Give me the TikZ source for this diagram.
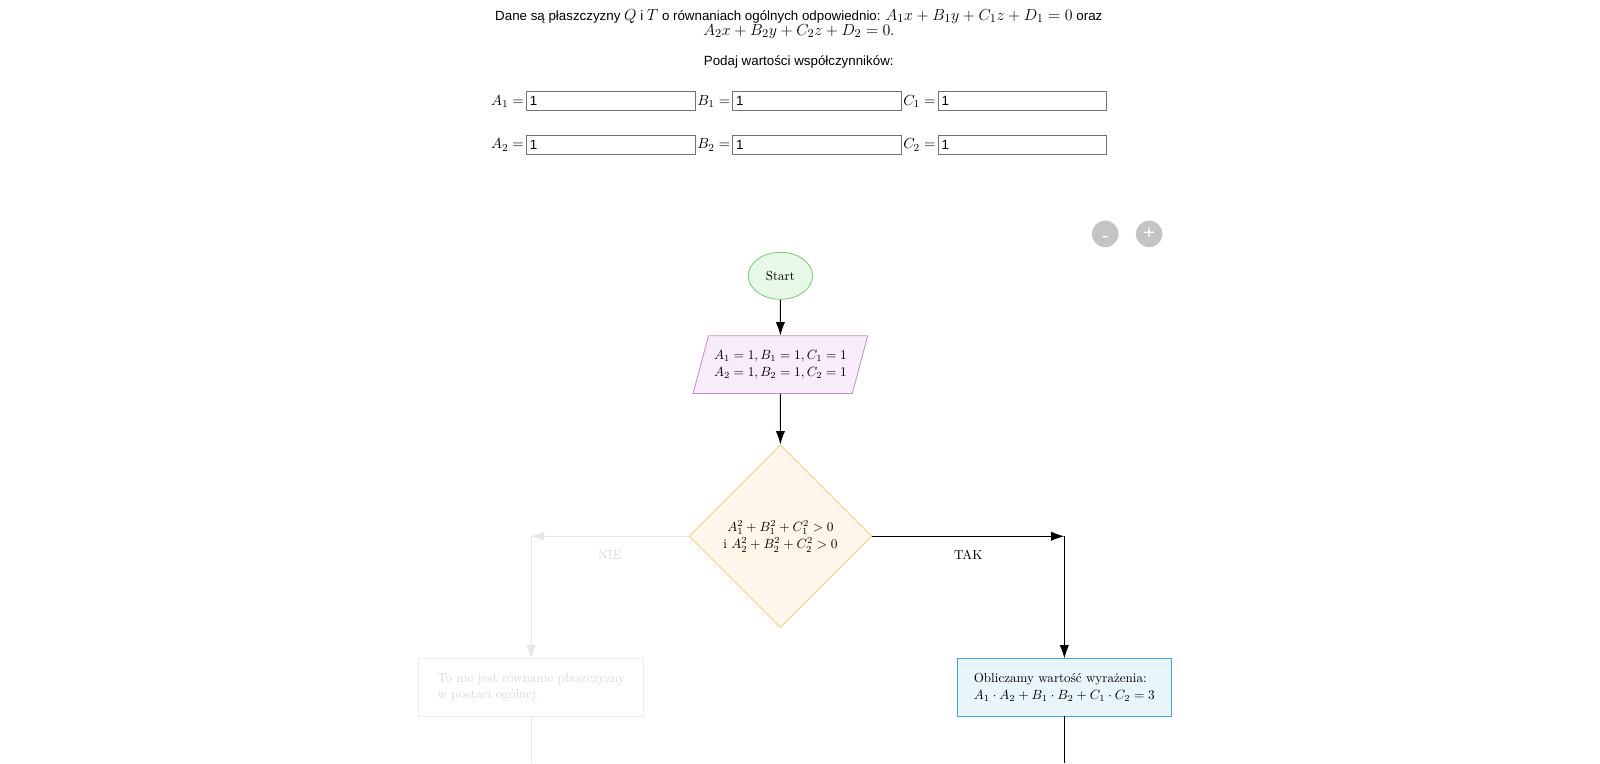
\documentclass[tikz,border=0pt]{standalone}
\usepackage{fontspec}
\newfontfamily\arial{Liberation Sans}
\usetikzlibrary{shapes.geometric,arrows.meta,positioning}
\definecolor{startfill}{HTML}{E7F8E7}
\definecolor{startdraw}{HTML}{76C976}
\definecolor{danefill}{HTML}{F9ECFA}
\definecolor{danedraw}{HTML}{C58ACF}
\definecolor{warfill}{HTML}{FEF6E9}
\definecolor{wardraw}{HTML}{F2C677}
\definecolor{oblfill}{HTML}{E8F5FA}
\definecolor{obldraw}{HTML}{48A6D6}
\definecolor{wyblakly}{HTML}{E6E6E6}
\definecolor{wyblaklytekst}{HTML}{DADADA}
\definecolor{przycisk}{HTML}{C4C4C4}
\newcommand\upx{0.7661pt}
\newcommand\duze[1]{{\fontsize{12.2}{15}\selectfont$#1$}}
\tikzset{
  blok/.style={draw, line width=0.6pt, font=\fontsize{9.8}{12.5}\selectfont},
  start/.style={blok, ellipse, draw=startdraw, fill=startfill, minimum width=63*\upx, minimum height=46*\upx, inner sep=0pt},
  dane/.style={blok, trapezium, trapezium left angle=75, trapezium right angle=105, trapezium stretches body, draw=danedraw, fill=danefill, minimum width=171*\upx, align=center, inner xsep=0pt, inner ysep=11pt},
  warunek/.style={blok, diamond, aspect=1, draw=wardraw, fill=warfill, minimum width=179*\upx, minimum height=179*\upx, align=center, inner sep=0pt},
  oblicz/.style={blok, rectangle, draw=obldraw, fill=oblfill, minimum width=210*\upx, minimum height=56*\upx, align=left},
  komunikat/.style={blok, rectangle, draw=wyblakly!70!white, text=wyblaklytekst, minimum width=220*\upx, minimum height=56*\upx, align=left},
  strzalka/.style={line width=0.75pt, -{Latex[length=10pt, width=7pt]}},
  opis/.style={font=\fontsize{9.8}{12}\selectfont},
  pole/.style={draw=black!55, line width=0.5pt, anchor=west, text width=165*\upx-5.2pt, inner xsep=2.6pt, inner ysep=0pt, minimum height=19*\upx, align=left, font=\arial\fontsize{10}{12}\selectfont},
  etykieta/.style={inner sep=0pt, font=\fontsize{10.8}{12}\selectfont},
  przycisk/.style={circle, fill=przycisk, text=white, minimum size=26*\upx, inner sep=0pt, font=\arial\fontsize{15}{15}\selectfont}
}
\begin{document}
\begin{tikzpicture}[x=\upx, y=-\upx]
	%%%%% TRESC %%%%%
	\fill[white] (0,0) rectangle (1566.4,747);
	\useasboundingbox (0,0) rectangle (1566.4,747);
	
	\node[font=\arial\fontsize{10}{13}\selectfont] (tresc1) at (782,16) {Dane są płaszczyzny \duze{Q} i \duze{T} o równaniach ogólnych odpowiednio: \duze{A_1x+B_1y+C_1z+D_1=0} oraz};
	\node[font=\arial\fontsize{10}{13}\selectfont] (tresc2) at (782,31) {{\fontsize{12.5}{15}\selectfont$A_2x+B_2y+C_2z+D_2=0$}.};
	\node[font=\arial\fontsize{10}{13}\selectfont] (podaj) at (782,61) {Podaj wartości współczynników:};
	
	%%%%% POLA %%%%%
	\node[pole] (pa1) at (515,99) {1};
	\node[etykieta, left=1.5pt of pa1] (la1) {$A_1=$};
	\node[pole] (pb1) at (717,99) {1};
	\node[etykieta, left=1.5pt of pb1] (lb1) {$B_1=$};
	\node[pole] (pc1) at (918,99) {1};
	\node[etykieta, left=1.5pt of pc1] (lc1) {$C_1=$};
	
	\node[pole] (pa2) at (515,142) {1};
	\node[etykieta, left=1.5pt of pa2] (la2) {$A_2=$};
	\node[pole] (pb2) at (717,142) {1};
	\node[etykieta, left=1.5pt of pb2] (lb2) {$B_2=$};
	\node[pole] (pc2) at (918,142) {1};
	\node[etykieta, left=1.5pt of pc2] (lc2) {$C_2=$};
	
	\node[przycisk, text height=12.5pt, text depth=0pt] (minus) at (1082,229) {-};
	\node[przycisk] (plus) at (1125,229) {+};
	
	%%%%% SCHEMAT %%%%%
	\node[start] (start) at (764,270) {Start};
	\node[dane] (dane) at (764,357) {$A_1=1, B_1=1, C_1=1$\\$A_2=1, B_2=1, C_2=1$};
	\node[warunek] (war) at (764,525) {$A_1^2+B_1^2+C_1^2>0$\\[0.5pt]i $A_2^2+B_2^2+C_2^2>0$};
	\node[oblicz] (obl) at (1042,673) {Obliczamy wartość wyrażenia:\\$A_1\cdot A_2+B_1\cdot B_2+C_1\cdot C_2=3$};
	\node[komunikat] (kom) at (520,673) {To nie jest równanie płaszczyzny\\w postaci ogólnej.};
	
	\draw[strzalka] (start) -- (dane);
	\draw[strzalka] (dane) -- (war);
	
	\coordinate (tak) at (obl.north |- war.east);
	\draw[strzalka] (war.east) -- node[opis, below=7pt] (taknapis) {TAK} (tak);
	\draw[strzalka] (tak) -- (obl.north);
	
	\coordinate (nie) at (kom.north |- war.west);
	\draw[strzalka, wyblakly] (war.west) -- node[opis, below=7pt, text=wyblaklytekst] (nienapis) {NIE} (nie);
	\draw[strzalka, wyblakly] (nie) -- (kom.north);
	
	\coordinate (dolobl) at (obl.south |- 0,747);
	\coordinate (dolkom) at (kom.south |- 0,747);
	\draw[line width=0.75pt] (obl) -- (dolobl);
	\draw[line width=0.75pt, wyblakly] (kom) -- (dolkom);
	
	%%%%% KONIEC %%%%%
\end{tikzpicture}
\end{document}
